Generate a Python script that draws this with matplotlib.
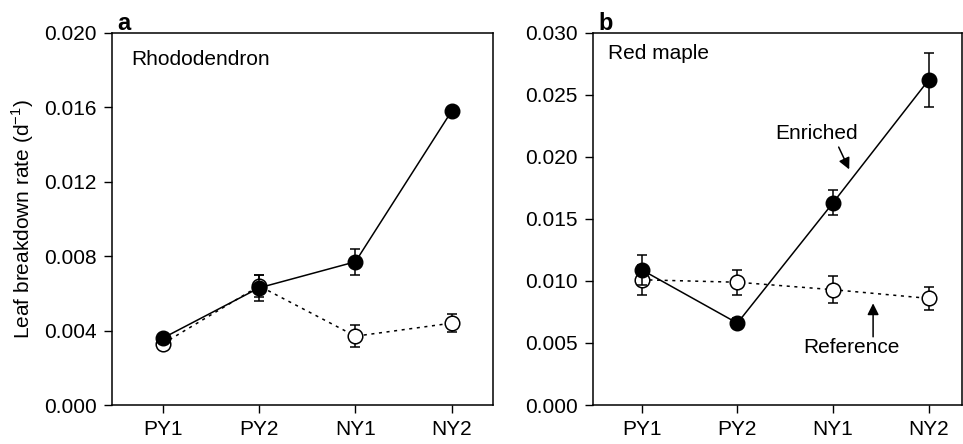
import matplotlib
matplotlib.use('Agg')
import matplotlib.pyplot as plt

plt.rcParams['font.family'] = ['Liberation Sans', 'DejaVu Sans']

sites = ['PY1', 'PY2', 'NY1', 'NY2']

# panel a: Rhododendron
rho_enriched = [0.0036, 0.0063, 0.0077, 0.0158]
rho_enriched_err = [0.0002, 0.0007, 0.0007, 0.0002]
rho_reference = [0.0033, 0.0064, 0.0037, 0.0044]
rho_reference_err = [0.0002, 0.0006, 0.0006, 0.0005]

# panel b: Red maple
map_enriched = [0.0109, 0.0066, 0.0163, 0.0262]
map_enriched_err = [0.0012, 0.0004, 0.0010, 0.0022]
map_reference = [0.0101, 0.0099, 0.0093, 0.0086]
map_reference_err = [0.0012, 0.0010, 0.0011, 0.0009]

FS = 15


def draw_panel(ax, enriched, enriched_err, reference, reference_err,
               ymax, yticks):
    x = list(range(len(sites)))
    ax.errorbar(x, reference, yerr=reference_err, color='black',
                linestyle=(0, (2, 3)), linewidth=1.1, marker='o',
                markersize=10.5, markerfacecolor='white',
                markeredgecolor='black', markeredgewidth=1.1,
                capsize=3.5, elinewidth=1.1, capthick=1.1, zorder=3)
    ax.errorbar(x, enriched, yerr=enriched_err, color='black',
                linestyle='-', linewidth=1.1, marker='o', markersize=10.5,
                markerfacecolor='black', markeredgecolor='black',
                capsize=3.5, elinewidth=1.1, capthick=1.1, zorder=4)
    ax.set_ylim(0, ymax)
    ax.set_yticks(yticks)
    ax.set_yticklabels(['%.3f' % v for v in yticks])
    ax.set_xticks(x)
    ax.set_xticklabels(sites)
    ax.tick_params(direction='out', length=6, width=1, labelsize=FS,
                   top=False, right=False, pad=5)
    for s in ax.spines.values():
        s.set_linewidth(1.1)


fig = plt.figure(figsize=(9.63, 4.44), dpi=100)
ax1 = fig.add_axes([112 / 963, 1 - 405 / 444, 381 / 963, 372 / 444])
ax2 = fig.add_axes([593 / 963, 1 - 405 / 444, 369 / 963, 372 / 444])

draw_panel(ax1, rho_enriched, rho_enriched_err, rho_reference,
           rho_reference_err, 0.020, [0, 0.004, 0.008, 0.012, 0.016, 0.020])
ax1.set_xlim(-0.53, 3.43)
draw_panel(ax2, map_enriched, map_enriched_err, map_reference,
           map_reference_err, 0.030,
           [0, 0.005, 0.010, 0.015, 0.020, 0.025, 0.030])
ax2.set_xlim(-0.51, 3.35)

ax1.set_ylabel('Leaf breakdown rate (d$^{\\mathregular{-1}}$)', fontsize=FS,
               labelpad=6)
ax1.text(0.05, 0.93, 'Rhododendron', transform=ax1.transAxes, fontsize=FS,
         va='center')
ax2.text(0.04, 0.945, 'Red maple', transform=ax2.transAxes, fontsize=FS,
         va='center')
ax1.text(0.015, 0.995, 'a', transform=ax1.transAxes, fontsize=17,
         fontweight='bold', va='bottom')
ax2.text(0.015, 0.995, 'b', transform=ax2.transAxes, fontsize=17,
         fontweight='bold', va='bottom')

arrow = dict(arrowstyle='-|>', color='black', lw=1.1, shrinkA=0, shrinkB=0,
             mutation_scale=17)
ax2.text(1.83, 0.0219, 'Enriched', fontsize=FS, ha='center', va='center')
ax2.annotate('', xy=(2.17, 0.0190), xytext=(2.06, 0.0208), arrowprops=arrow)
ax2.text(2.19, 0.0046, 'Reference', fontsize=FS, ha='center', va='center')
ax2.annotate('', xy=(2.42, 0.0082), xytext=(2.42, 0.0055), arrowprops=arrow)

fig.savefig('out.png', dpi=100)
